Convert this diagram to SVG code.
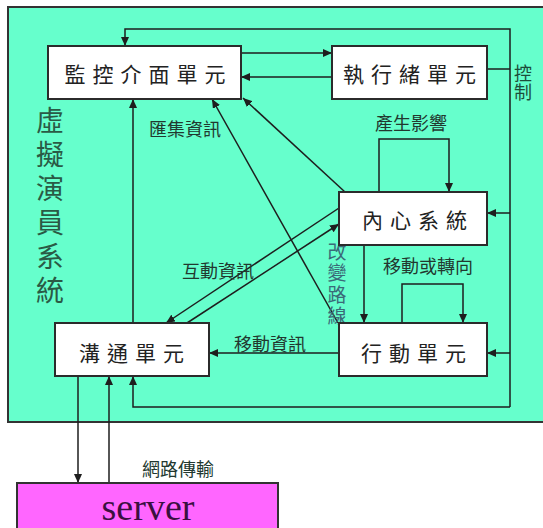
<svg xmlns="http://www.w3.org/2000/svg" width="543" height="528" viewBox="0 0 543 528">
<style>
.node rect{fill:#ffffff;stroke:#2b2b2b;stroke-width:2}
.ntext{font-family:"Noto Sans CJK TC","Noto Sans CJK SC",sans-serif;font-size:21px;fill:#222;text-anchor:middle;dominant-baseline:central;letter-spacing:7px}
.lbl{font-family:"Noto Sans CJK TC","Noto Sans CJK SC",sans-serif;font-size:18px;fill:#22382f;text-anchor:middle;dominant-baseline:central}
.vert{font-family:"Noto Sans CJK TC","Noto Sans CJK SC",sans-serif;writing-mode:vertical-rl;text-anchor:start}
.conn line,.conn polyline{fill:none;stroke:#1e1e1e;stroke-width:1.5}
</style>
<defs>
<marker id="ah" markerWidth="9" markerHeight="8" refX="9" refY="4" orient="auto" markerUnits="userSpaceOnUse">
<path d="M0,0 L9,4 L0,8 z" fill="#1e1e1e"/>
</marker>
</defs>
<rect x="0" y="0" width="543" height="528" fill="#ffffff"/>
<g id="system">
<rect x="8" y="7" width="545" height="415" fill="#66ffcc" stroke="#333" stroke-width="2"/>
<text class="vert" x="50" y="106" font-size="28" letter-spacing="6" fill="#2a5a45">虛擬演員系統</text>
</g>
<g class="conn" id="connectors">
<polyline points="510,407 510,29 125,29 125,46" marker-end="url(#ah)"/>
<polyline points="510,407 133,407 133,376" marker-end="url(#ah)"/>
<line x1="510" y1="213" x2="487" y2="213" marker-end="url(#ah)"/>
<line x1="510" y1="353" x2="487" y2="353" marker-end="url(#ah)"/>
<line x1="487" y1="69" x2="510" y2="69"/>
<line x1="133" y1="323" x2="133" y2="99" marker-end="url(#ah)"/>
<line x1="241" y1="53" x2="332" y2="53" marker-end="url(#ah)"/>
<line x1="332" y1="77" x2="241" y2="77" marker-end="url(#ah)"/>
<line x1="345" y1="192" x2="243" y2="98" marker-end="url(#ah)"/>
<line x1="338" y1="323" x2="212" y2="99" marker-end="url(#ah)"/>
<line x1="339" y1="208" x2="166" y2="323" marker-end="url(#ah)"/>
<line x1="187" y1="323" x2="339" y2="224" marker-end="url(#ah)"/>
<line x1="364" y1="245" x2="364" y2="323" marker-end="url(#ah)"/>
<polyline points="379,192 379,139 449,139 449,192" marker-end="url(#ah)"/>
<polyline points="402,323 402,284 463,284 463,323" marker-end="url(#ah)"/>
<line x1="339" y1="353" x2="209" y2="353" marker-end="url(#ah)"/>
<line x1="78" y1="376" x2="78" y2="483" marker-end="url(#ah)"/>
<line x1="109" y1="483" x2="109" y2="376" marker-end="url(#ah)"/>
</g>
<g id="labels">
<text class="lbl" x="185" y="128">匯集資訊</text>
<text class="lbl" x="411" y="122" fill="#1d4d3a">產生影響</text>
<text class="lbl" x="428" y="265">移動或轉向</text>
<text class="lbl" x="218" y="270">互動資訊</text>
<text class="lbl" x="270" y="343">移動資訊</text>
<text class="lbl" x="178" y="468">網路傳輸</text>
<text class="vert" x="523" y="64" font-size="18" letter-spacing="1" fill="#1d4d3a">控制</text>
<text class="vert" x="337" y="242" font-size="19" letter-spacing="2.5" fill="#3a6a78">改變路線</text>
</g>
<g id="monitor" class="node">
<rect x="48" y="46" width="193" height="53"/>
<text class="ntext" x="148.5" y="73">監控介面單元</text>
</g>
<g id="executor" class="node">
<rect x="332" y="46" width="155" height="53"/>
<text class="ntext" x="413" y="73">執行緒單元</text>
</g>
<g id="inner" class="node">
<rect x="339" y="192" width="148" height="53"/>
<text class="ntext" x="418" y="219">內心系統</text>
</g>
<g id="action" class="node">
<rect x="339" y="323" width="148" height="53"/>
<text class="ntext" x="417" y="352">行動單元</text>
</g>
<g id="comm" class="node">
<rect x="55" y="323" width="154" height="53"/>
<text class="ntext" x="135" y="352">溝通單元</text>
</g>
<g id="server">
<rect x="17" y="483" width="261" height="55" fill="#ff66ff" stroke="#333" stroke-width="2"/>
<text x="148" y="520" font-family="Liberation Serif,serif" font-size="38" fill="#3a1040" text-anchor="middle">server</text>
</g>
</svg>
